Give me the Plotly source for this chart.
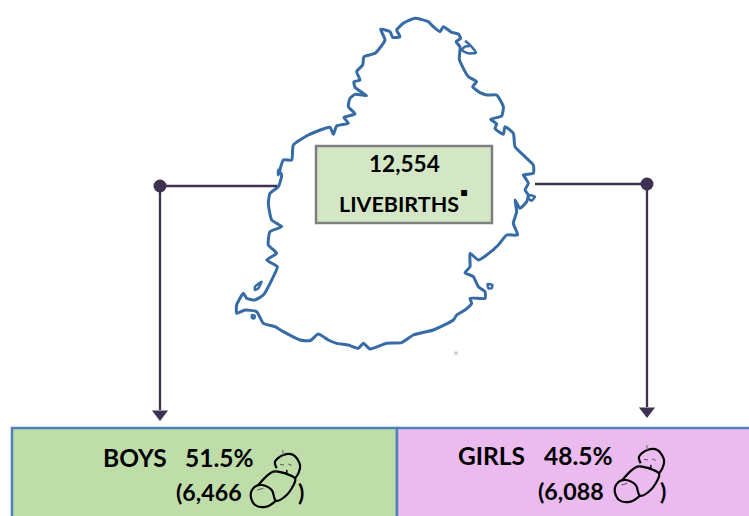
import plotly.graph_objects as go

# Map outline, in picture pixels
north_coast = [(585,55),(625,65),(640,80),(660,95),(670,80),(695,97),(715,102),(722,115),(708,125),(720,140),(718,178),(730,205),(745,230),(770,245),(758,260),(780,278),(800,285),(830,285),(850,320),(845,348),(812,358),(830,372),(825,385),(850,403),(855,380),(880,400),(885,440),(915,470),(940,495),(940,520),(910,525),(920,540)]
south_coast = [(910,15),(925,40),(915,60),(925,75),(920,95),(900,115),(885,90),(890,125),(880,160),(893,195),(860,195),(835,225),(800,255),(775,270),(750,250),(750,290),(735,308),(760,320),(775,350),(795,365),(795,385),(750,385),(755,400),(735,420),(710,435),(700,450),(640,480),(580,495),(545,518),(500,520),(450,537),(430,520),(415,535),(385,525),(350,520),(325,510),(295,492),(270,512),(240,510),(190,485),(165,470),(130,460),(110,425),(75,420),(50,430),(50,405),(70,370),(80,385),(105,390),(130,375),(160,320),(172,290),(140,270),(170,250),(145,225),(150,185),(185,170),(155,150),(145,100),(150,70),(175,50),(185,15),(175,0)]
west_coast = [(175,525),(190,480),(215,480),(220,435),(265,405),(330,382),(340,403),(350,378),(385,370),(372,352),(405,342),(385,320),(390,295),(405,283),(440,287),(405,262),(402,245),(420,240),(410,215),(428,195),(432,170),(465,160),(495,120),(482,88),(510,95),(518,112),(540,110),(530,90),(550,70),(585,55)]
islet_north = [(735,122),(750,135),(768,158),(745,160),(725,150),(735,140),(750,138)]
islet_east = [(925,75),(945,80),(935,92),(925,85),(925,75)]
islet_sw = [(105,350),(125,335),(115,355),(105,360),(105,350)]
islet_se = [(803,342),(817,345),(815,355),(805,355),(803,342)]
islet_s = [(96,435),(104,437),(103,445),(96,444),(96,435)]

total_births = "12,554"
total_label = "LIVEBIRTHS"
boys_label, boys_pct, boys_count = "BOYS", "51.5%", "(6,466"
girls_label, girls_pct, girls_count = "GIRLS", "48.5%", "(6,088"

baby_head = [(110,85),(105,65),(130,45),(160,45),(180,75),(175,100),(165,115)]
baby_body = [(55,135),(100,95),(135,100),(165,115),(165,125),(140,165),(108,182),(95,150),(65,135),(45,140),(32,165),(45,195),(80,200),(108,182)]
baby_chin = [(125,100),(140,98),(140,90)]
baby_eye_a = [(120,73),(132,75)]
baby_eye_b = [(145,72),(155,76)]
baby_crease_a = [(92,100),(112,92)]
baby_crease_b = [(52,150),(70,145)]
baby_tuft = [(128,30),(130,44)]


def north(pts):
    return [220 + p[0] / 3 for p in pts], [p[1] / 3 for p in pts]


def south(pts):
    return [220 + p[0] / 3 for p in pts], [170 + p[1] / 3 for p in pts]


fig = go.Figure()
BLUE = "#366BA5"
DARK = "#3F3151"

# Boxes
for x0, x1, y0, y1, fill, border, w in [
    (12, 397, 428, 530, "#BFDDA9", "#4F81BD", 2.5),
    (397, 760, 428, 530, "#EBBBF0", "#4F81BD", 2.5),
    (316, 492, 146, 223, "#D3E7C7", "#7F7F7F", 2.5),
]:
    fig.add_shape(type="rect", x0=x0, x1=x1, y0=y0, y1=y1, fillcolor=fill,
                  line=dict(color=border, width=w), layer="below")

# Map
xn, yn = north(north_coast)
xs, ys = south(south_coast)
xw, yw = north(west_coast)
fig.add_trace(go.Scatter(x=xn + xs + xw, y=yn + ys + yw, mode="lines",
                         line=dict(color=BLUE, width=3, shape="spline", smoothing=0.5)))
for pts, fn in [(islet_north, north), (islet_east, south), (islet_sw, south),
                (islet_se, south), (islet_s, south)]:
    x, y = fn(pts)
    fig.add_trace(go.Scatter(x=x, y=y, mode="lines",
                             line=dict(color=BLUE, width=2.5, shape="spline", smoothing=0.5)))
fig.add_trace(go.Scatter(x=[456], y=[353], mode="markers",
                         marker=dict(color="#B8C8DC", size=3, symbol="square")))

# Connectors
fig.add_trace(go.Scatter(x=[277, 160, 160], y=[186, 186, 410], mode="lines",
                         line=dict(color=DARK, width=2.3)))
fig.add_trace(go.Scatter(x=[535, 647, 647], y=[184, 184, 407], mode="lines",
                         line=dict(color=DARK, width=2.3)))
fig.add_trace(go.Scatter(x=[160, 647], y=[186, 184], mode="markers",
                         marker=dict(color=DARK, size=13)))
fig.add_trace(go.Scatter(x=[160, 647], y=[414, 411], mode="markers",
                         marker=dict(color=DARK, size=14, symbol="triangle-down")))

# Babies
for dx, dy in [(240, 440), (604, 435)]:
    for pts, lw, col in [(baby_head, 2.2, "#000000"), (baby_body, 2.2, "#000000"),
                         (baby_chin, 1.5, "#000000"), (baby_eye_a, 0.8, "#333333"),
                         (baby_eye_b, 0.8, "#333333"), (baby_crease_a, 0.8, "#333333"),
                         (baby_crease_b, 0.8, "#333333"), (baby_tuft, 1.5, "#888888")]:
        fig.add_trace(go.Scatter(x=[dx + p[0] / 3 for p in pts],
                                 y=[dy + p[1] / 3 for p in pts], mode="lines",
                                 line=dict(color=col, width=lw, shape="spline")))


def font(size, family="Lato"):
    return dict(family=family, size=size, color="#000000")


def label(x, y, text, anchor="left", f=None):
    fig.add_annotation(x=x, y=y, text="<b>" + text + "</b>", showarrow=False,
                       xanchor=anchor, yanchor="middle", font=f or font(24), xref="x", yref="y",
                       borderpad=0, borderwidth=0)


label(404, 163, total_births, "center", font(22.6))
label(399, 204, total_label, "center", font(21.5))
label(464, 192, "▪", "center", font(12, "DejaVu Sans"))
label(103, 457, boys_label, f=font(24.5))
label(185, 457, boys_pct, f=font(24.5))
label(176, 492, boys_count, f=font(23.2))
label(298, 492, ")", f=font(23.2))
label(458, 455, girls_label, f=font(24.5))
label(544, 455, girls_pct, f=font(24.5))
label(538, 491, girls_count, f=font(23.2))
label(660, 491, ")", f=font(23.2))

fig.update_layout(
    width=749, height=516, autosize=False, showlegend=False,
    margin=dict(l=0, r=0, t=0, b=0), plot_bgcolor="#FFFFFF", paper_bgcolor="#FFFFFF",
    xaxis=dict(range=[0, 749], visible=False, fixedrange=True),
    yaxis=dict(range=[516, 0], visible=False, fixedrange=True),
)
fig.write_html("out.html", config={"displayModeBar": False},
               post_script="document.body.style.margin='0';document.body.style.overflow='hidden';")
